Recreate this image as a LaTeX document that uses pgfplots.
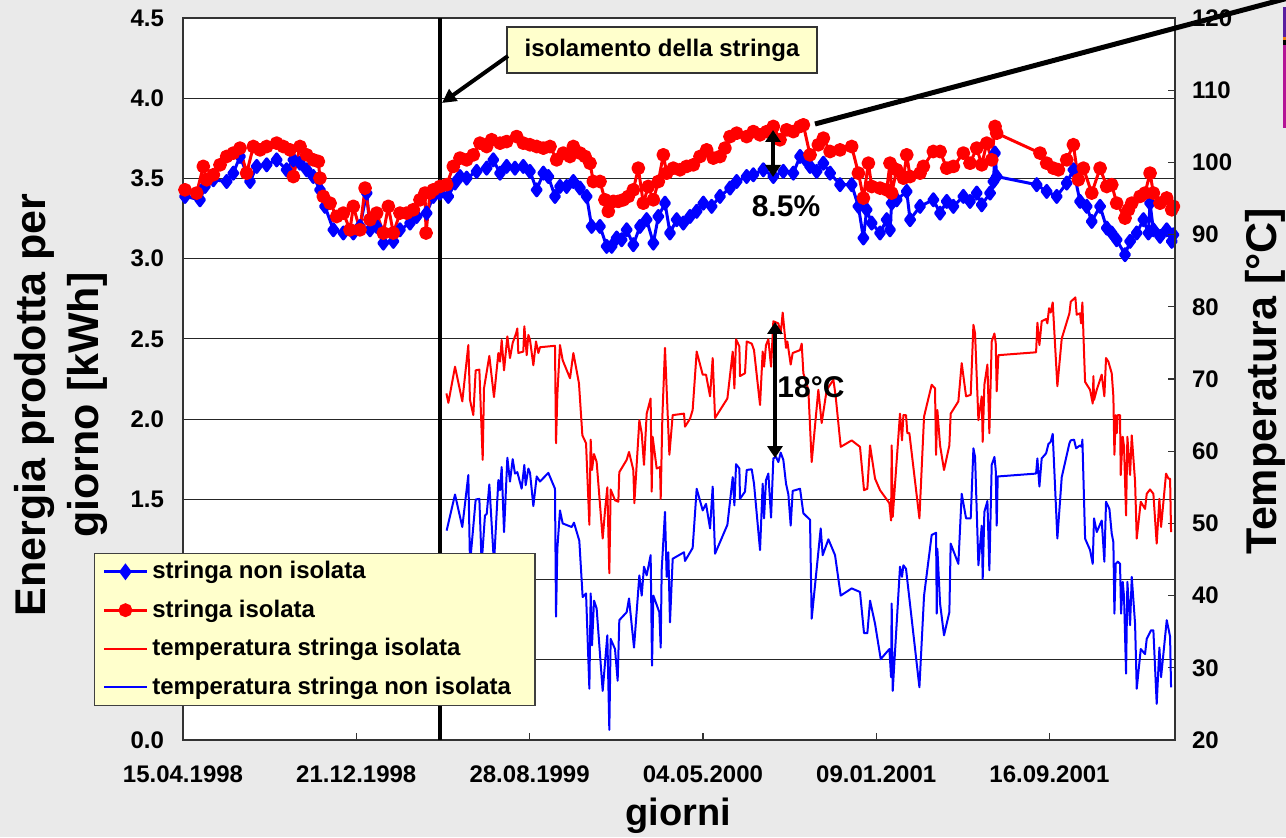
\documentclass[border=0pt]{standalone}
\usepackage{fontspec}
\setmainfont{Liberation Sans}
\usepackage{pgfplots}
\pgfplotsset{compat=1.18}
\usetikzlibrary{arrows.meta}
\definecolor{bggray}{RGB}{234,234,234}
\definecolor{boxyellow}{RGB}{255,255,204}
\definecolor{myblue}{RGB}{0,0,255}
\definecolor{myred}{RGB}{255,0,0}
\definecolor{strippurple}{RGB}{90,30,160}
\definecolor{striporange}{RGB}{240,130,20}
\definecolor{stripmagenta}{RGB}{180,20,150}
\begin{document}
\begin{tikzpicture}
\fill[bggray] (0,0) rectangle (643pt,418.5pt);
\begin{axis}[
  at={(91.5pt,48.5pt)}, anchor=south west,
  scale only axis, width=496pt, height=361pt,
  xmin=0, xmax=1431, ymin=0, ymax=4.5,
  axis background/.style={fill=white},
  axis line style={black!80, line width=0.8pt},
  xtick={0,250,500,750,1000,1250},
  xticklabels={15.04.1998,21.12.1998,28.08.1999,04.05.2000,09.01.2001,16.09.2001},
  ytick={0,0.5,1,1.5,2,2.5,3,3.5,4,4.5},
  yticklabels={0.0,0.5,1.0,1.5,2.0,2.5,3.0,3.5,4.0,4.5},
  xtick pos=left, ytick pos=left,
  xtick align=inside, major tick length=3.5pt,
  ytick style={draw=none},
  xtick style={black!80, line width=0.6pt},
  ymajorgrids, grid style={black!85, line width=0.5pt},
  ticklabel style={font=\fontsize{12}{14}\selectfont\bfseries},
  xticklabel style={yshift=-9.5pt},
  yticklabel style={xshift=-6pt},
]
\addplot[myblue, line width=1.5pt, line join=round, mark=diamond*, mark size=3pt] coordinates {
(-6.7,3.336) (2.9,3.388) (24.5,3.367) (31.7,3.450) (43.8,3.492) (63.0,3.481) (72.6,3.533) (82.2,3.637) (96.7,3.481) (106.3,3.575) (120.7,3.585) (135.1,3.616) (149.5,3.554) (159.2,3.616) (168.8,3.595) (178.4,3.554) (188.0,3.512) (197.6,3.429) (204.8,3.326) (216.9,3.180) (231.3,3.160) (245.7,3.160) (255.3,3.201) (265.0,3.409) (269.8,3.180) (279.4,3.201) (289.0,3.097) (303.4,3.108) (313.0,3.180) (327.5,3.222) (337.1,3.263) (351.5,3.284) (361.1,3.388) (370.7,3.409)
(382.7,3.388) (392.3,3.471) (399.6,3.512) (409.2,3.502) (423.6,3.544) (438.0,3.564) (447.6,3.616) (457.3,3.533) (466.9,3.575) (478.9,3.564) (490.9,3.575) (500.5,3.544) (510.2,3.429) (519.8,3.533) (527.0,3.512) (536.6,3.388) (543.8,3.450) (553.4,3.450) (563.1,3.481) (572.7,3.440) (582.3,3.388) (589.5,3.201) (601.5,3.201) (611.1,3.077) (618.4,3.077) (625.6,3.129) (632.8,3.118) (640.0,3.180) (649.6,3.087) (659.2,3.201) (668.8,3.243) (678.5,3.097) (685.7,3.263) (695.3,3.346) (702.5,3.160) (712.1,3.243) (721.7,3.222) (731.4,3.263) (741.0,3.295) (750.6,3.346) (762.6,3.326) (774.6,3.388) (789.1,3.440) (798.7,3.481) (813.1,3.512) (822.7,3.523) (837.1,3.554) (851.6,3.512) (866.0,3.544) (880.4,3.533)
(890.1,3.637) (897.3,3.620) (904.5,3.575) (914.1,3.544) (923.8,3.595) (933.4,3.533) (947.8,3.461) (964.6,3.461) (974.3,3.326) (981.5,3.129) (986.3,3.305) (993.5,3.222) (1005.5,3.160) (1015.1,3.243) (1019.9,3.180) (1022.3,3.346) (1029.6,3.367) (1044.0,3.419) (1048.8,3.243) (1063.2,3.326) (1082.4,3.367) (1092.1,3.284) (1101.7,3.357) (1111.3,3.326) (1125.7,3.388) (1135.3,3.357) (1145.0,3.409) (1152.2,3.336) (1164.2,3.409) (1169.0,3.481) (1171.4,3.658) (1173.8,3.512) (1231.5,3.461) (1245.9,3.419) (1260.4,3.388) (1274.8,3.471) (1284.4,3.554) (1294.0,3.357) (1303.7,3.326) (1310.9,3.232) (1322.9,3.326) (1332.5,3.191) (1339.7,3.160) (1346.9,3.118) (1358.9,3.025) (1366.2,3.108) (1375.8,3.160) (1385.4,3.243) (1392.6,3.160) (1395.0,3.346) (1399.8,3.180) (1409.4,3.139) (1419.0,3.180) (1426.3,3.108) (1428.7,3.149)
};
\addplot[myred, line width=1.5pt, line join=round, mark=*, mark size=2.7pt] coordinates {
(-6.7,3.367) (2.9,3.429) (19.7,3.409) (29.3,3.575) (34.1,3.492) (43.8,3.523) (53.4,3.585) (63.0,3.637) (72.6,3.658) (82.2,3.689) (91.8,3.533) (101.5,3.699) (111.1,3.678) (120.7,3.699) (135.1,3.720) (144.7,3.699) (154.4,3.678) (159.2,3.512) (168.8,3.699) (178.4,3.647) (188.0,3.616) (195.2,3.606) (197.6,3.502) (202.4,3.388) (212.1,3.346) (221.7,3.263) (231.3,3.284) (240.9,3.180) (245.7,3.326) (255.3,3.180) (262.6,3.440) (269.8,3.243) (279.4,3.284) (289.0,3.160) (296.2,3.326) (303.4,3.160) (313.0,3.284) (322.7,3.284) (332.3,3.305) (341.9,3.367) (349.1,3.409) (350.6,3.160) (356.3,3.409) (361.1,3.429) (370.7,3.450)
(380.3,3.461) (389.9,3.575) (399.6,3.627) (409.2,3.616) (418.8,3.647) (428.4,3.720) (438.0,3.699) (445.2,3.741) (457.3,3.720) (466.9,3.730) (481.3,3.761) (490.9,3.720) (500.5,3.710) (510.2,3.699) (519.8,3.689) (529.4,3.699) (539.0,3.616) (548.6,3.658) (558.2,3.637) (563.1,3.699) (572.7,3.658) (579.9,3.637) (587.1,3.595) (591.9,3.481) (601.5,3.481) (608.7,3.367) (613.5,3.295) (620.8,3.357) (628.0,3.357) (635.2,3.367) (642.4,3.388) (649.6,3.429) (656.8,3.564) (664.0,3.346) (671.2,3.450) (678.5,3.367) (685.7,3.481) (692.9,3.647) (697.7,3.533) (707.3,3.564) (716.9,3.554) (726.5,3.575) (736.2,3.585) (745.8,3.637) (755.4,3.678) (765.0,3.627) (774.6,3.637) (781.8,3.689) (789.1,3.761) (798.7,3.782) (813.1,3.761) (822.7,3.792) (832.3,3.772) (842.0,3.792) (851.6,3.824) (861.2,3.741) (870.8,3.803) (880.4,3.792)
(890.1,3.824) (894.9,3.834) (904.5,3.647) (916.5,3.710) (923.8,3.751) (933.4,3.668) (947.8,3.678) (964.6,3.699) (974.3,3.533) (981.5,3.378) (988.7,3.595) (993.5,3.450) (1005.5,3.440) (1015.1,3.429) (1019.9,3.595) (1022.3,3.409) (1029.6,3.554) (1039.2,3.502) (1044.0,3.647) (1048.8,3.512) (1063.2,3.533) (1068.0,3.575) (1082.4,3.668) (1092.1,3.668) (1101.7,3.564) (1111.3,3.575) (1125.7,3.658) (1135.3,3.595) (1145.0,3.689) (1152.2,3.585) (1159.4,3.720) (1166.6,3.616) (1171.4,3.824) (1173.8,3.782) (1236.3,3.658) (1245.9,3.595) (1255.6,3.564) (1262.8,3.554) (1274.8,3.616) (1284.4,3.710) (1291.6,3.492) (1298.9,3.564) (1310.9,3.409) (1322.9,3.564) (1332.5,3.450) (1339.7,3.461) (1346.9,3.346) (1358.9,3.253) (1363.8,3.305) (1368.6,3.346) (1380.6,3.388) (1387.8,3.409) (1395.0,3.533) (1399.8,3.409) (1409.4,3.346) (1419.0,3.378) (1426.3,3.305) (1428.7,3.326)
};
\draw[black, line width=1.8pt] (axis cs:370.7,0) -- (axis cs:370.7,4.5);
\end{axis}
\begin{axis}[
  at={(91.5pt,48.5pt)}, anchor=south west,
  scale only axis, width=496pt, height=361pt,
  xmin=0, xmax=1431, ymin=20, ymax=120,
  axis x line=none, axis y line*=right,
  axis line style={black!80, line width=0.8pt},
  ytick={20,30,40,50,60,70,80,90,100,110,120},
  yticklabels={20,30,40,50,60,70,80,90,100,110,120},
  ytick align=inside, major tick length=3.5pt,
  ytick style={black!80, line width=0.6pt},
  ticklabel style={font=\fontsize{12}{14}\selectfont\bfseries},
  yticklabel style={xshift=5pt},
  legend cell align=left,
  legend image code/.code={\draw[mark repeat=2,mark phase=2,#1] plot coordinates {(0cm,0cm) (0.375cm,0cm) (0.75cm,0cm)};},
  legend style={at={(-0.0897,0.259)}, anchor=north west, fill=boxyellow, draw=black!75, line width=0.6pt,
    font=\fontsize{12}{14}\selectfont\bfseries, inner xsep=4pt, inner ysep=2pt, row sep=5pt},
]
\addlegendimage{myblue, line width=1.5pt, mark=diamond*, mark size=3pt}
\addlegendentry{stringa non isolata}
\addlegendimage{myred, line width=1.5pt, mark=*, mark size=2.7pt}
\addlegendentry{stringa isolata}
\addplot[myred, line width=1pt, line join=round] coordinates {
(380,68.0) (382.8,66.7) (392.4,71.7) (402.9,66.9) (411.6,74.7) (414.0,67.1) (418.8,65.0) (422.2,71.2) (427.5,71.3) (432.3,58.8) (434.2,68.7) (441.9,73.2) (448.6,67.5) (454.9,73.6) (457.3,72.4) (459.7,75.4) (463.1,71.2) (467.9,75.9) (471.7,72.9) (475.6,75.0) (480.4,76.3) (482.3,77.0) (483.7,73.6) (490.9,73.8) (492.4,77.3) (495.8,73.3) (498.2,76.1) (500.6,75.4) (505.4,71.9) (509.2,75.2) (512.6,73.6) (515.0,74.4) (536.6,74.6) (538.1,61.1) (540.0,67.8) (543.8,74.7) (547.7,72.6) (558.3,70.1) (563.1,73.6) (571.2,69.4) (576.1,62.2) (581.4,61.1) (586.2,49.8) (588.1,61.6) (590.0,57.4) (592.9,59.6) (596.7,58.5) (605.4,47.9) (608.8,51.8) (612.1,55.0) (615.0,43.1) (616.9,54.7) (623.2,53.2) (628.0,53.0) (629.4,57.1) (640.0,58.8) (643.4,59.9) (649.6,57.4) (651.1,52.8) (658.3,64.3) (661.7,62.5) (665.0,58.1) (668.9,65.2) (674.6,67.3) (676.1,54.4) (677.5,62.0) (683.3,57.6) (688.1,57.8) (689.1,53.4) (691.5,64.8) (695.3,74.3) (698.7,66.2) (701.6,59.5) (706.4,65.0) (722.7,65.2) (724.2,63.4) (731.4,64.5)
(735.2,65.7) (741.0,73.8) (749.7,70.6) (754.5,70.6) (760.3,67.6) (764.1,72.9) (767.5,64.6) (785.3,67.3) (793.0,73.8) (795.4,68.7) (797.8,75.5) (802.6,74.5) (803.5,70.4) (810.7,70.8) (813.2,75.2) (820.4,74.9) (823.7,74.0) (832.4,66.4) (836.2,73.8) (838.2,71.7) (841.0,74.7) (844.4,75.5) (848.3,71.7) (851.6,78.0) (858.8,77.7) (862.2,76.3) (865.1,79.2) (869.9,74.3) (871.8,75.2) (876.6,72.0) (879.5,73.6) (890.1,74.0) (892.5,74.9) (894.9,70.8) (902.1,68.5) (906.9,58.5) (916.5,68.5) (921.3,63.9) (928.6,68.5) (938.2,69.9) (941.5,67.6) (948.8,60.6) (964.6,61.5) (976.6,60.6) (982.4,54.6) (987.2,54.8) (991.1,60.8) (998.3,56.2) (1005.5,54.6) (1019.0,52.8) (1021.4,50.4) (1022.3,60.8) (1023.8,50.9) (1034.3,65.2) (1037.2,61.5) (1039.2,65.0) (1043.0,65.0) (1044.9,62.5) (1047.8,62.5) (1062.3,50.7) (1069.0,64.8) (1080.0,69.2) (1084.8,68.7) (1086.3,59.5) (1088.2,65.7) (1092.1,60.8) (1097.8,57.4) (1105.5,60.8) (1107.4,65.2) (1118.5,66.9)
(1123.3,72.2) (1129.6,67.6) (1136.3,67.8) (1140.2,77.5) (1142.6,76.3) (1147.4,64.3) (1152.2,67.6) (1153.6,61.3) (1156.0,69.2) (1160.4,72.0) (1163.2,62.5) (1166.6,75.2) (1170.5,76.3) (1172.4,75.0) (1173.8,68.3) (1176.2,73.3) (1230.6,73.7) (1232.5,77.8) (1235.4,74.7) (1238.7,78.0) (1245.0,78.3) (1246.9,77.7) (1249.3,79.8) (1251.7,79.2) (1254.6,80.6) (1261.3,69.0) (1267.6,75.6) (1278.7,79.1) (1280.6,80.7) (1287.3,81.3) (1289.2,78.9) (1294.0,79.1) (1295.5,77.7) (1297.4,80.6) (1299.8,73.6) (1301.3,69.6) (1308.5,68.5) (1312.3,66.6) (1313.3,70.4) (1314.2,67.1) (1318.1,68.5) (1325.3,70.6) (1329.1,67.6) (1331.5,72.9) (1334.9,72.4) (1339.7,70.8) (1342.1,67.6) (1343.6,59.5) (1345.5,65.0) (1347.0,62.5) (1348.4,65.0) (1351.7,65.0) (1352.7,56.7) (1355.6,62.0) (1357.5,60.6) (1360.4,51.1) (1362.3,62.0) (1366.2,56.7) (1368.6,62.2) (1373.4,55.8) (1375.8,47.9) (1381.6,53.0) (1387.8,52.0) (1390.2,54.1) (1395.0,54.7) (1399.8,54.1) (1404.6,47.2) (1408.5,53.4) (1410.9,49.5) (1418.1,56.9) (1421.5,56.2) (1423.9,56.2) (1425.3,48.8)
};
\addlegendentry{temperatura stringa isolata}
\addplot[myblue, line width=1pt, line join=round] coordinates {
(380.3,49.0) (392.4,54.0) (402.9,49.5) (411.6,56.7) (414.0,44.4) (422.2,53.3) (427.5,53.4) (430.8,44.4) (435.6,51.1) (438.1,51.3) (441.9,55.4) (448.6,44.4) (454.9,56.0) (457.3,54.6) (459.7,57.8) (463.1,48.8) (467.9,59.1) (471.7,55.8) (475.6,58.9) (478.9,56.9) (482.3,57.1) (488.5,54.8) (492.4,58.1) (494.3,55.3) (498.2,57.6) (500.6,57.0) (505.4,52.4) (510.2,56.5) (515.0,55.8) (527.0,57.0) (536.6,54.8) (538.1,37.1) (540.0,46.5) (543.8,51.8) (547.7,50.0) (560.7,49.5) (564.0,50.1) (571.7,47.6) (576.5,39.8) (581.4,40.3) (586.2,27.1) (588.1,40.3) (590.0,33.1) (592.9,39.3) (596.7,38.2) (605.4,26.8) (612.1,34.5) (615.0,21.4) (616.9,34.0) (623.2,32.6) (627.0,28.2) (629.4,36.6) (640.0,37.7) (643.4,39.6) (650.6,32.8) (658.3,42.8) (661.7,40.0) (665.0,44.0) (668.9,42.8) (674.6,45.6) (676.6,30.3) (678.5,40.0) (687.1,37.7) (689.1,32.8) (690.5,43.5) (695.3,51.6) (697.7,42.6) (700.1,46.0) (702.5,36.3) (706.4,45.1) (722.7,46.0) (724.2,44.8) (735.2,46.6)
(741.0,54.8) (749.7,51.8) (754.5,52.7) (760.3,49.3) (764.1,55.1) (767.5,45.8) (785.3,49.8) (793.0,56.4) (795.4,52.5) (797.8,58.2) (802.6,57.6) (803.5,53.4) (810.7,54.4) (813.2,57.4) (820.4,57.5) (823.7,55.5) (832.4,46.3) (836.2,55.5) (838.2,50.7) (841.0,56.0) (844.4,56.9) (848.3,50.8) (851.6,59.0) (855.5,59.2) (858.8,58.5) (862.2,59.8) (866.0,58.8) (869.9,55.5) (873.3,54.0) (876.6,49.7) (879.5,54.5) (890.1,54.8) (894.9,51.4) (904.5,50.5) (906.9,36.8) (919.9,49.3) (922.8,45.6) (931.0,47.8) (940.6,45.6) (948.8,40.0) (964.6,41.0) (976.6,40.5) (982.4,34.8) (987.2,34.8) (991.1,39.3) (998.3,36.1) (1006.5,31.2) (1019.0,32.6) (1021.4,28.7) (1022.3,38.9) (1023.8,26.8) (1034.3,44.0) (1037.2,42.6) (1039.2,44.2) (1043.0,43.7) (1062.3,27.3) (1069.0,40.0) (1080.0,48.4) (1086.3,48.7) (1087.3,37.5) (1088.2,46.5) (1092.1,38.9) (1097.8,34.5) (1105.5,37.7) (1107.4,47.2) (1118.5,44.4)
(1123.3,54.1) (1129.6,50.7) (1136.3,50.7) (1140.2,60.4) (1142.6,59.2) (1147.4,44.2) (1152.2,49.7) (1153.6,42.3) (1156.0,51.6) (1160.4,53.1) (1163.2,43.5) (1166.6,58.1) (1170.5,59.2) (1172.4,57.4) (1173.8,49.7) (1175.3,56.5) (1230.6,56.9) (1232.5,59.0) (1235.4,55.1) (1238.7,59.0) (1245.0,59.7) (1248.4,61.0) (1251.7,61.3) (1254.6,62.4) (1261.3,47.9) (1267.6,56.4) (1278.7,61.1) (1280.6,61.5) (1285.4,61.6) (1288.3,60.4) (1294.0,60.8) (1296.4,60.6) (1297.4,61.6) (1301.3,47.9) (1308.5,46.3) (1312.3,44.4) (1314.2,50.7) (1318.1,48.8) (1325.3,50.4) (1329.1,44.7) (1331.5,53.0) (1336.4,52.0) (1339.7,48.6) (1342.1,47.4) (1343.6,37.5) (1345.5,44.4) (1348.4,44.7) (1351.7,44.4) (1353.2,37.5) (1355.6,41.9) (1357.5,39.8) (1360.4,29.2) (1362.3,41.9) (1366.2,35.9) (1368.6,42.6) (1373.4,36.1) (1375.8,27.1) (1381.6,32.6) (1387.8,31.9) (1390.2,34.0) (1396.5,35.2) (1399.8,35.2) (1404.6,25.0) (1408.5,32.8) (1410.9,28.7) (1419.1,36.6) (1423.9,34.3) (1425.3,27.3)
};
\addlegendentry{temperatura stringa non isolata\hspace*{6pt}}
\end{axis}
\begin{scope}[x=0.5pt, y=-0.5pt, shift={(0pt,418.5pt)}]
  \node[draw=black!80, line width=0.7pt, fill=boxyellow, minimum width=155pt, minimum height=23pt, inner sep=0pt,
        font=\fontsize{12}{14}\selectfont\bfseries] at (662,50) {isolamento della stringa};
  \draw[line width=2pt, -{Triangle[length=7pt,width=7pt]}] (508,56) -- (442,103);
  \draw[line width=2pt, {Triangle[length=6pt,width=7.5pt]}-{Triangle[length=6pt,width=7.5pt]}] (773,130) -- (773,177);
  \node[font=\fontsize{15}{18}\selectfont\bfseries] at (786,206) {8.5\%};
  \draw[line width=2pt, {Triangle[length=6pt,width=7.5pt]}-{Triangle[length=6pt,width=7.5pt]}] (775,322) -- (775,458);
  \node[font=\fontsize{15}{18}\selectfont\bfseries] at (811,387) {18°C};
  \draw[line width=2.5pt] (815,124) -- (1292,-3);
  \fill[strippurple] (1283,7) rectangle (1287,37);
  \fill[striporange] (1283,37) rectangle (1287,40);
  \fill[black] (1283,40) rectangle (1287,45);
  \fill[stripmagenta] (1283,45) rectangle (1287,128);
  \node[rotate=90, anchor=base, inner sep=0pt, font=\fontsize{21.5}{26}\selectfont\bfseries] at (46,405) {Energia prodotta per};
  \node[rotate=90, anchor=base, inner sep=0pt, font=\fontsize{21.5}{26}\selectfont\bfseries] at (99,405) {giorno [kWh]};
  \node[rotate=90, anchor=base, inner sep=0pt, font=\fontsize{21.5}{26}\selectfont\bfseries] at (1276,381) {Temperatura [°C]};
  \node[anchor=base, inner sep=0pt, font=\fontsize{19}{22}\selectfont\bfseries] at (678,825) {giorni};
\end{scope}
\pgfresetboundingbox
\path[use as bounding box] (0,0) rectangle (643pt,418.5pt);
\end{tikzpicture}
\end{document}
